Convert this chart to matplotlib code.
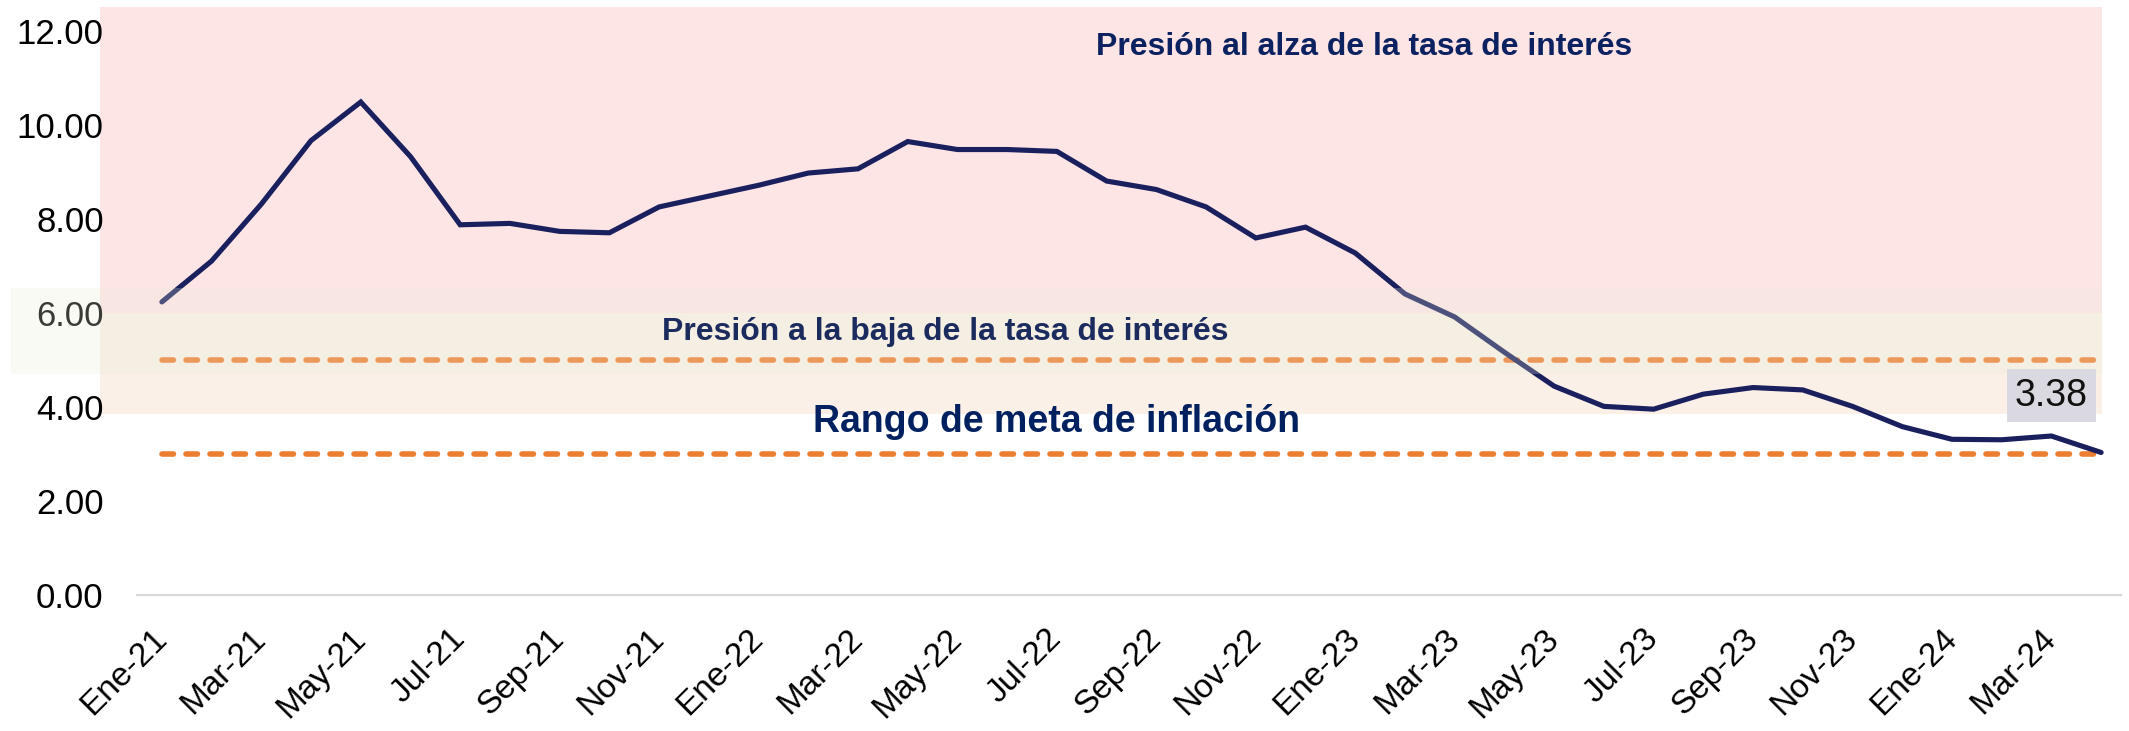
import matplotlib
matplotlib.use('Agg')
import matplotlib.pyplot as plt
import matplotlib.transforms as mtransforms
from matplotlib.patches import Rectangle
import numpy as np

plt.rcParams['font.family'] = ['Liberation Sans', 'DejaVu Sans']

# Data: inflación interanual (%), Ene-21 a Abr-24
meses = ['Ene', 'Feb', 'Mar', 'Abr', 'May', 'Jun', 'Jul', 'Ago', 'Sep', 'Oct', 'Nov', 'Dic']
anios = ['21', '22', '23', '24']
inflacion = [6.23, 7.10, 8.31, 9.66, 10.48, 9.32, 7.87, 7.90, 7.73, 7.70, 8.25, 8.48,
             8.71, 8.97, 9.06, 9.64, 9.47, 9.47, 9.43, 8.80, 8.62, 8.25, 7.59, 7.82,
             7.27, 6.40, 5.91, 5.16, 4.44, 4.01, 3.95, 4.27, 4.41, 4.36, 4.01, 3.58,
             3.31, 3.30, 3.38, 3.03]
meta_rango = [3.0, 5.0]
mes_etiqueta = 'Mar-24'

# bandas de fondo (valores del eje y)
banda_alza = [6.0, 12.5]
banda_baja = [3.85, 6.0]
banda_sombra = [4.70, 6.53]

etiquetas = [f'{m}-{a}' for a in anios for m in meses][:len(inflacion)]
x = np.arange(len(inflacion))

navy = '#0B2160'
orange = '#ED7D31'

fig = plt.figure(figsize=(21.29, 7.31), dpi=100)
ax = fig.add_axes([137 / 2129, 136 / 731, (2121 - 137) / 2129, (724 - 136) / 731])
ax.set_xlim(-0.5, 39.4)
ax.set_ylim(0, 12.5)

# fondos
x0, x1 = -1.25, x[-1] + 0.02
ax.add_patch(Rectangle((x0, banda_alza[0]), x1 - x0, banda_alza[1] - banda_alza[0],
                       facecolor='#FDE5E5', edgecolor='none', zorder=0, clip_on=False))
ax.add_patch(Rectangle((x0, banda_baja[0]), x1 - x0, banda_baja[1] - banda_baja[0],
                       facecolor='#FAF0E8', edgecolor='none', zorder=0, clip_on=False))

# rango meta
for m in meta_rango:
    ax.plot([x[0], x[-1]], [m, m], color=orange, linewidth=4.0, dashes=(2.06, 2.26),
            dash_capstyle='round', zorder=2)

ax.plot(x, inflacion, color='#1A1F5E', linewidth=3.7, zorder=3,
        solid_capstyle='round', solid_joinstyle='miter')

# sombra semitransparente sobre la banda
trans = mtransforms.blended_transform_factory(fig.transFigure, ax.transData)
ax.add_patch(Rectangle((11 / 2129, banda_sombra[0]), (2102 - 11) / 2129,
                       banda_sombra[1] - banda_sombra[0], transform=trans,
                       facecolor='#E8ECD7', alpha=0.25, edgecolor='none',
                       zorder=5, clip_on=False))

# textos
ax.text(24.17, 11.47, 'Presión al alza de la tasa de interés', ha='center', va='baseline',
        fontsize=23, fontweight='bold', color=navy, zorder=6)
ax.text(15.75, 5.43, 'Presión a la baja de la tasa de interés', ha='center', va='baseline',
        fontsize=23, fontweight='bold', color='#1C2B5E', zorder=6)
ax.text(18.0, 3.47, 'Rango de meta de inflación', ha='center', va='baseline',
        fontsize=27, fontweight='bold', color='#002060', zorder=6)

i_lab = etiquetas.index(mes_etiqueta)
ax.annotate(f'{inflacion[i_lab]:.2f}', xy=(x[i_lab], inflacion[i_lab]), xytext=(0, 29),
            textcoords='offset points', ha='center', va='center', fontsize=27,
            color='#111111', zorder=6,
            bbox=dict(boxstyle='square,pad=0.22', facecolor='#DAD9E1', edgecolor='none'))

# ejes
ax.set_yticks(np.arange(0, 13, 2))
ax.set_yticklabels([f'{v:.2f}' for v in np.arange(0, 13, 2)])
ax.set_xticks(x[::2])
ax.set_xticklabels(etiquetas[::2], rotation=45, ha='right', va='center',
                   rotation_mode='anchor')
ax.tick_params(axis='y', length=0, pad=24, labelsize=25)
ax.tick_params(axis='x', length=0, pad=28, labelsize=24)
for s in ['top', 'right', 'left']:
    ax.spines[s].set_visible(False)
ax.spines['bottom'].set_color('#D9D9D9')
ax.spines['bottom'].set_linewidth(1.6)
ax.patch.set_visible(False)

fig.savefig('out.png', dpi=100)
